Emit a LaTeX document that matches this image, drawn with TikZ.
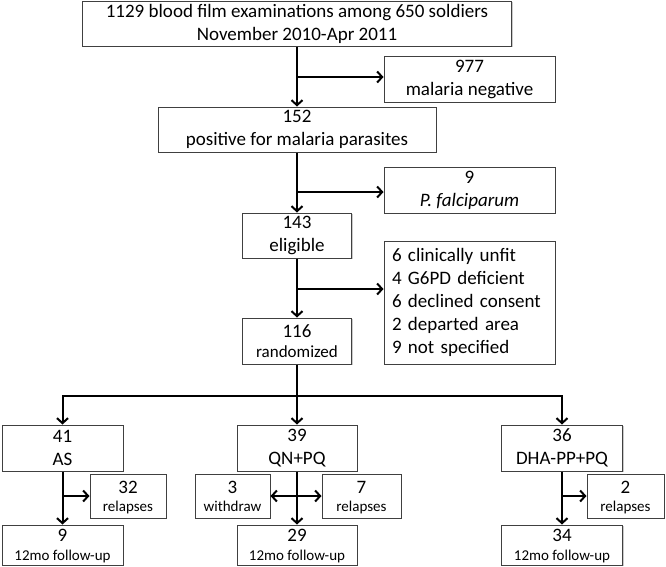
\documentclass[tikz,border=0pt]{standalone}
\usepackage{fontspec}
\setmainfont{Carlito}
\usetikzlibrary{arrows.meta,shadows}
\begin{document}
\begin{tikzpicture}[x=1pt,y=-1pt,
  box/.style={draw=black!75,line width=1pt,fill=white,align=center,inner sep=0pt,
    font=\fontsize{19}{23}\selectfont,
    drop shadow={shadow xshift=1.2pt,shadow yshift=-1.2pt,fill=black!35,opacity=0.6}},
  mixed/.style={font=\fontsize{19}{18}\selectfont,text depth=0pt},
  mixedf/.style={font=\fontsize{19}{19}\selectfont,text depth=0pt},
  conn/.style={line width=2pt,black},
  arr/.style={conn,-{Straight Barb[length=5pt,width=11pt,line width=2pt]}}]
\useasboundingbox (0,0) rectangle (666,566);
\def\sml{\fontsize{15}{18}\selectfont}
% main column
\node[box,minimum width=429pt,minimum height=45pt] (top) at (297,23.5)
  {1129 blood film examinations among 650 soldiers\\November 2010-Apr 2011};
\node[box,minimum width=171pt,minimum height=46pt] (neg) at (469.5,79)
  {977\\malaria negative};
\node[box,minimum width=278pt,minimum height=45pt] (pos) at (297,129.5)
  {152\\positive for malaria parasites};
\node[box,minimum width=171pt,minimum height=46pt] (fal) at (469.5,190)
  {9\\\textit{P. falciparum}};
\node[box,minimum width=109pt,minimum height=45pt] (elig) at (297,235.5)
  {143\\eligible};
\node[box,text width=155pt,inner xsep=8pt,minimum height=123pt,align=left] (excl) at (469.5,302.5)
  {6 clinically unfit\\4 G6PD deficient\\6 declined consent\\2 departed area\\9 not specified};
\node[box,font=\fontsize{19}{20}\selectfont,text depth=0pt,minimum width=109pt,minimum height=46pt] (rand) at (297,341)
  {116\\{\fontsize{17}{20}\selectfont randomized}};
% arms
\node[box,minimum width=121pt,minimum height=46pt] (as) at (62.5,448) {41\\AS};
\node[box,minimum width=120pt,minimum height=46pt] (qn) at (297,448) {39\\QN+PQ};
\node[box,minimum width=121pt,minimum height=46pt] (dha) at (562,448) {36\\DHA-PP+PQ};
\node[box,mixed,minimum width=76pt,minimum height=44pt] (r32) at (128,496) {32\\{\sml relapses}};
\node[box,mixed,minimum width=75pt,minimum height=44pt] (w3) at (232.5,496) {3\\{\sml withdraw}};
\node[box,mixed,minimum width=79pt,minimum height=44pt] (r7) at (361.5,496) {7\\{\sml relapses}};
\node[box,mixed,minimum width=77pt,minimum height=44pt] (r2) at (625.5,496) {2\\{\sml relapses}};
\node[box,mixedf,minimum width=121pt,minimum height=40pt] (f9) at (62.5,545) {9\\{\sml 12mo follow-up}};
\node[box,mixedf,minimum width=120pt,minimum height=40pt] (f29) at (297,545) {29\\{\sml 12mo follow-up}};
\node[box,mixedf,minimum width=121pt,minimum height=40pt] (f34) at (562,545) {34\\{\sml 12mo follow-up}};
% connectors
\coordinate (b1) at (297,77);
\coordinate (b2) at (297,192);
\coordinate (b3) at (297,289);
\coordinate (j) at (297,396);
\draw[arr] (top.south) -- (pos.north);
\draw[arr] (b1) -- (b1 -| neg.west);
\draw[arr] (pos.south) -- (elig.north);
\draw[arr] (b2) -- (b2 -| fal.west);
\draw[arr] (elig.south) -- (rand.north);
\draw[arr] (b3) -- (b3 -| excl.west);
\draw[conn] (rand.south) -- (j);
\draw[arr] (j) -| (as.north);
\draw[arr] (j) -| (dha.north);
\draw[arr] (j) -- (qn.north);
\draw[arr] (as.south) -- (f9.north);
\draw[arr] (as.south |- r32.west) -- (r32.west);
\draw[arr] (qn.south) -- (f29.north);
\draw[arr] (qn.south |- w3.east) -- (w3.east);
\draw[arr] (qn.south |- r7.west) -- (r7.west);
\draw[arr] (dha.south) -- (f34.north);
\draw[arr] (dha.south |- r2.west) -- (r2.west);
\end{tikzpicture}
\end{document}
